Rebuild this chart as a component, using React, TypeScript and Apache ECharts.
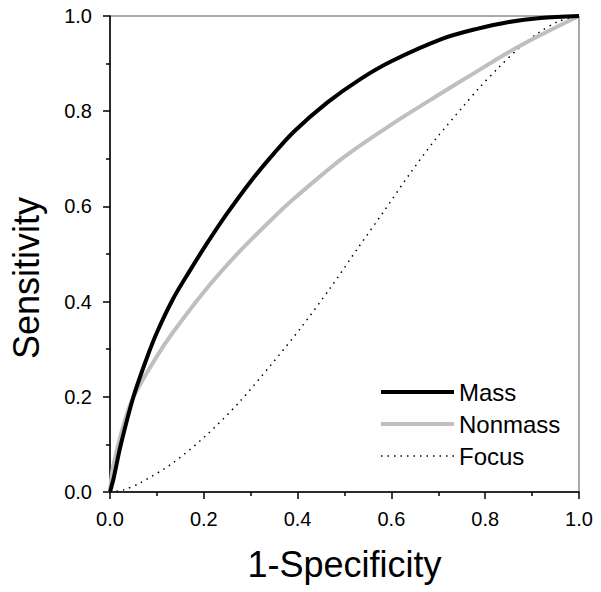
import React, { useEffect, useRef } from "react";
import * as echarts from "echarts";

const massX = [0, 0.008, 0.022, 0.05, 0.078, 0.1, 0.134, 0.169, 0.204, 0.246, 0.302, 0.351, 0.393, 0.463, 0.533, 0.6, 0.708, 0.778, 0.848, 0.918, 1.0];
const massY = [0, 0.03, 0.095, 0.2, 0.28, 0.335, 0.405, 0.463, 0.518, 0.58, 0.655, 0.713, 0.758, 0.818, 0.867, 0.905, 0.952, 0.972, 0.987, 0.996, 1.0];

const nonmassX = [0, 0.005, 0.015, 0.03, 0.05, 0.1, 0.134, 0.204, 0.274, 0.344, 0.393, 0.498, 0.603, 0.7, 0.778, 0.848, 0.918, 1.0];
const nonmassY = [0, 0.045, 0.089, 0.145, 0.2, 0.285, 0.335, 0.425, 0.503, 0.572, 0.617, 0.703, 0.774, 0.834, 0.881, 0.923, 0.96, 1.0];

const focusX = [0, 0.03, 0.064, 0.134, 0.204, 0.274, 0.344, 0.407, 0.47, 0.529, 0.582, 0.641, 0.694, 0.754, 0.788, 0.827, 0.869, 0.911, 0.957, 1.0];
const focusY = [0, 0.005, 0.019, 0.061, 0.118, 0.187, 0.268, 0.345, 0.429, 0.513, 0.587, 0.671, 0.741, 0.811, 0.85, 0.89, 0.93, 0.963, 0.989, 1.0];

const seriesNames = ["Mass", "Nonmass", "Focus"];
const xTitle = "1-Specificity";
const yTitle = "Sensitivity";

const zip = (xs: number[], ys: number[]) => xs.map((x, i) => [x, ys[i]]);

const FONT = "'Liberation Sans', Arial, sans-serif";

export default function App() {
  const ref = useRef<HTMLDivElement>(null);
  useEffect(() => {
    if (!ref.current) return;
    const chart = echarts.init(ref.current, undefined, { renderer: "svg" });
    const axisCommon = {
      type: "value" as const,
      min: 0,
      max: 1,
      interval: 0.2,
      nameLocation: "middle" as const,
      axisLine: { show: true, onZero: false, lineStyle: { color: "#000", width: 1.5 } },
      axisTick: { show: true, inside: false, length: 7, lineStyle: { color: "#000", width: 1.5 } },
      minorTick: { show: true, splitNumber: 2, length: 4, lineStyle: { color: "#000", width: 1.5 } },
      splitLine: { show: false },
      minorSplitLine: { show: false },
      axisLabel: {
        fontSize: 20,
        color: "#000",
        fontFamily: FONT,
        showMinLabel: true,
        showMaxLabel: true,
        formatter: (v: number) => v.toFixed(1),
      },
    };
    chart.setOption({
      animation: false,
      backgroundColor: "#fff",
      grid: {
        left: 103,
        right: 22,
        top: 16,
        bottom: 100,
        show: true,
        borderColor: "#555",
        borderWidth: 1,
        backgroundColor: "transparent",
      },
      legend: {
        orient: "vertical",
        left: 379,
        top: 380,
        padding: 0,
        itemWidth: 73,
        itemHeight: 14,
        itemGap: 8,
        itemStyle: { opacity: 0 },
        lineStyle: { width: "inherit" },
        textStyle: { fontSize: 24, color: "#000", fontFamily: FONT },
        data: seriesNames,
      },
      xAxis: {
        ...axisCommon,
        name: xTitle,
        nameGap: 54,
        nameTextStyle: { fontSize: 36, color: "#000", fontFamily: FONT },
        axisLabel: { ...axisCommon.axisLabel, margin: 17 },
      },
      yAxis: {
        ...axisCommon,
        name: yTitle,
        nameGap: 66,
        nameTextStyle: { fontSize: 36, color: "#000", fontFamily: FONT, padding: [0, 48, 0, 0] },
        axisLabel: { ...axisCommon.axisLabel, margin: 18 },
      },
      series: [
        {
          name: seriesNames[0],
          type: "line",
          data: zip(massX, massY),
          symbol: "none",
          smooth: 0.3,
          lineStyle: { color: "#000", width: 4 },
          itemStyle: { color: "#000" },
          z: 3,
        },
        {
          name: seriesNames[1],
          type: "line",
          data: zip(nonmassX, nonmassY),
          symbol: "none",
          smooth: 0.3,
          lineStyle: { color: "#bfbfbf", width: 4 },
          itemStyle: { color: "#bfbfbf" },
          z: 2,
        },
        {
          name: seriesNames[2],
          type: "line",
          data: zip(focusX, focusY),
          symbol: "none",
          smooth: 0.3,
          lineStyle: { color: "#000", width: 1.5, type: [1.5, 5] },
          itemStyle: { color: "#000" },
          z: 1,
        },
      ],
    });
    return () => chart.dispose();
  }, []);
  return (
    <div
      ref={ref}
      style={{ position: "fixed", left: 0, top: 0, width: 601, height: 592 }}
    />
  );
}
